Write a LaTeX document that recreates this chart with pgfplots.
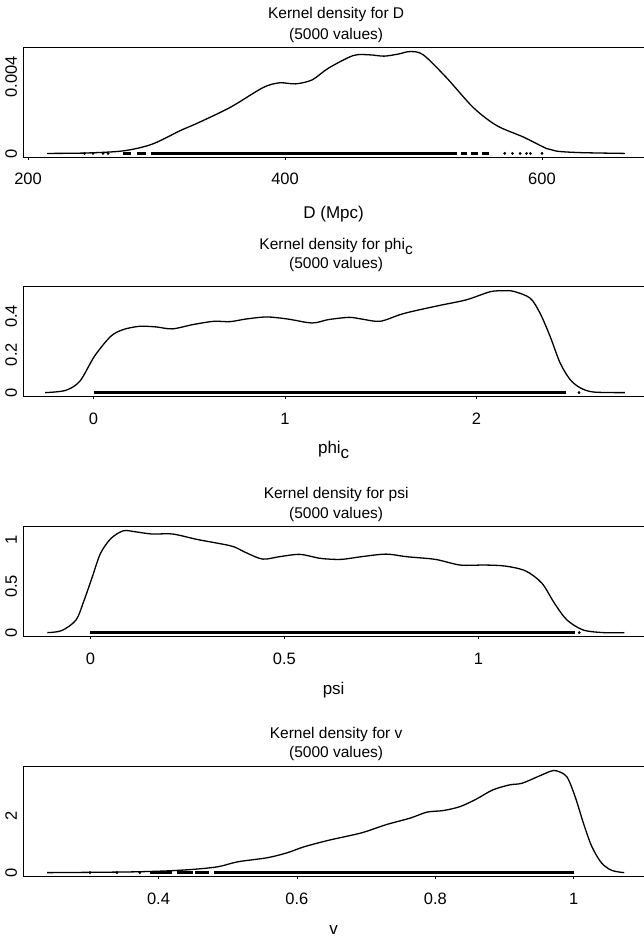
\documentclass[border=0pt]{standalone}
\usepackage{fontspec}
\setmainfont{Liberation Sans}
\usepackage{pgfplots}
\pgfplotsset{compat=1.18}

\newcommand\tickf{\fontsize{16.5}{19}\selectfont}
\newcommand\titf{\fontsize{15.5}{18}\selectfont}
\newcommand\labf{\fontsize{17}{20}\selectfont}

\tikzset{topline/.style={line width=1.3pt}}
\pgfplotsset{
  kd/.style={
    scale only axis, width=620.7pt, height=110pt,
    anchor=north west, clip=false,
    axis lines*=left,
    axis line style={line width=1.3pt},
    tick align=outside,
    xtick pos=left, ytick pos=left,
    major tick length=2.5pt,
    xtick style={line width=0.8pt, black},
    ytick style={draw=none},
    scaled x ticks=false, scaled y ticks=false,
    xticklabel style={anchor=base, inner sep=0pt, yshift=-25pt, font=\tickf},
    yticklabel style={xshift=-4pt, rotate=90, anchor=base, inner sep=0pt, font=\tickf},
  },
  curve/.style={black, line width=1.3pt, smooth, tension=0.5},
  rug/.style={black, line width=3pt, unbounded coords=jump},
  rugpt/.style={black, only marks, mark=*, mark size=1.2pt},
}

\begin{document}
\begin{tikzpicture}
\useasboundingbox (0,0) rectangle (644pt,-939pt);

% ---------------- Panel 1: D ----------------
\begin{axis}[kd, at={(23.3pt,-47.5pt)},
  xmin=196.3, xmax=679.4, ymin=-0.000212, ymax=0.005512,
  xtick={200,400,600}, xticklabels={200,400,600},
  ytick={0,0.004}, yticklabels={0,0.004}]
\addplot[curve] coordinates {
(214.9,0) (245,0.0000212) (274.1,0.000133) (296.4,0.000477) (318.8,0.001198)
(331.6,0.001569) (357.2,0.00239) (382.7,0.003419) (395.6,0.003673) (408.3,0.00362)
(421.1,0.003827) (433.9,0.004441) (453.1,0.005093) (465.8,0.00513) (477.0,0.005062)
(488,0.005168) (497.3,0.0053) (507.6,0.00513) (525.8,0.003933) (546.5,0.00239)
(564.7,0.001452) (585.5,0.000853) (603.6,0.000254) (611.4,0.000117) (629.6,0.0000424)
(664.6,0)};
\addplot[rug] coordinates {(274,0) (280,0) (nan,nan) (285,0) (292,0) (nan,nan)
(296,0) (534,0) (nan,nan) (537,0) (542,0) (nan,nan) (545,0) (550,0) (nan,nan) (553,0) (559,0)};
\addplot[rugpt] coordinates {(244,0) (250.6,0) (258.4,0) (262.3,0) (571,0) (577,0) (583,0) (588,0) (591,0) (600,0)};
\draw[topline] (rel axis cs:0,1) -- (rel axis cs:1,1);
\node[font=\titf, anchor=base, yshift=28.5pt] at (axis description cs:0.504,1) {Kernel density for D};
\node[font=\titf, anchor=base, yshift=7.5pt] at (axis description cs:0.504,1) {(5000 values)};
\node[font=\labf, anchor=base, yshift=-61pt] at (axis description cs:0.5,0) {D (Mpc)};
\end{axis}

% ---------------- Panel 2: phi_c ----------------
\begin{axis}[kd, at={(23.3pt,-286.7pt)},
  xmin=-0.367, xmax=2.8757, ymin=-0.0214, ymax=0.5564,
  xtick={0,1,2}, xticklabels={0,1,2},
  ytick={0,0.2,0.4}, yticklabels={0,0.2,0.4}]
\addplot[curve] coordinates {
(-0.253,0) (-0.146,0.0118) (-0.071,0.0605) (0.005,0.1915) (0.090,0.2959)
(0.155,0.3312) (0.240,0.3483) (0.327,0.3451) (0.412,0.3349) (0.519,0.3574)
(0.627,0.3745) (0.713,0.3729) (0.798,0.3868) (0.905,0.3975) (1.013,0.3868)
(1.142,0.3659) (1.227,0.3836) (1.335,0.3954) (1.399,0.3868) (1.496,0.3745)
(1.60,0.4093) (1.671,0.428) (1.81,0.4585) (1.949,0.4879) (2.071,0.5297)
(2.14,0.535) (2.193,0.5323) (2.28,0.497) (2.332,0.4184) (2.385,0.2959)
(2.437,0.1568) (2.489,0.0696) (2.541,0.0262) (2.611,0.0032) (2.776,0)};
\addplot[rug] coordinates {(0,0) (2.47,0)};
\addplot[rugpt] coordinates {(2.536,0)};
\draw[topline] (rel axis cs:0,1) -- (rel axis cs:1,1);
\node[font=\titf, anchor=base, yshift=37pt] at (axis description cs:0.504,1) {Kernel density for phi\raisebox{-0.3em}{c}};
\node[font=\titf, anchor=base, yshift=18pt] at (axis description cs:0.504,1) {(5000 values)};
\node[font=\labf, anchor=base, yshift=-57pt] at (axis description cs:0.5,0) {phi\raisebox{-0.3em}{c}};
\end{axis}

% ---------------- Panel 3: psi ----------------
\begin{axis}[kd, at={(23.3pt,-526.7pt)},
  xmin=-0.173, xmax=1.4268, ymin=-0.044, ymax=1.144,
  xtick={0,0.5,1}, xticklabels={0,0.5,1},
  ytick={0,0.5,1}, yticklabels={0,0.5,1}]
\addplot[curve] coordinates {
(-0.111,0) (-0.074,0.022) (-0.037,0.1375) (-0.016,0.352) (0.005,0.604)
(0.026,0.856) (0.053,1.0175) (0.085,1.1) (0.116,1.089) (0.159,1.065)
(0.212,1.065) (0.275,1.0065) (0.339,0.957) (0.370,0.927) (0.402,0.862)
(0.444,0.794) (0.487,0.82) (0.540,0.845) (0.593,0.802) (0.646,0.791)
(0.698,0.82) (0.762,0.848) (0.815,0.82) (0.889,0.791) (0.953,0.730)
(1.016,0.730) (1.069,0.719) (1.122,0.666) (1.164,0.532) (1.196,0.317)
(1.228,0.1375) (1.270,0.0286) (1.323,0) (1.376,0)};
\addplot[rug] coordinates {(0,0) (1.25,0)};
\addplot[rugpt] coordinates {(1.26,0)};
\draw[topline] (rel axis cs:0,1) -- (rel axis cs:1,1);
\node[font=\titf, anchor=base, yshift=28.5pt] at (axis description cs:0.504,1) {Kernel density for psi};
\node[font=\titf, anchor=base, yshift=8pt] at (axis description cs:0.504,1) {(5000 values)};
\node[font=\labf, anchor=base, yshift=-58pt] at (axis description cs:0.5,0) {psi};
\end{axis}

% ---------------- Panel 4: v ----------------
\begin{axis}[kd, at={(23.3pt,-766.7pt)},
  xmin=0.2046, xmax=1.1016, ymin=-0.144, ymax=3.744,
  xtick={0.4,0.6,0.8,1}, xticklabels={0.4,0.6,0.8,1},
  ytick={0,2}, yticklabels={0,2}]
\addplot[curve] coordinates {
(0.239,0) (0.349,0.0216) (0.408,0.0576) (0.450,0.1152) (0.486,0.2088)
(0.515,0.3852) (0.557,0.5256) (0.586,0.702) (0.610,0.9108) (0.646,1.1448)
(0.693,1.404) (0.729,1.6956) (0.764,1.9296) (0.788,2.1384) (0.812,2.196)
(0.836,2.3364) (0.859,2.5956) (0.883,2.9232) (0.907,3.0996) (0.925,3.1572)
(0.948,3.3912) (0.966,3.5784) (0.975,3.6) (0.99,3.3912) (1.002,2.6892)
(1.014,1.7532) (1.026,0.9324) (1.040,0.3492) (1.055,0.0792) (1.073,0)};
\addplot[rug] coordinates {(0.388,0) (0.42,0) (nan,nan) (0.426,0) (0.45,0) (nan,nan)
(0.453,0) (0.473,0) (nan,nan) (0.48,0) (1.0,0)};
\addplot[rugpt] coordinates {(0.301,0) (0.34,0) (0.373,0)};
\draw[topline] (rel axis cs:0,1) -- (rel axis cs:1,1);
\node[font=\titf, anchor=base, yshift=28.5pt] at (axis description cs:0.504,1) {Kernel density for v};
\node[font=\titf, anchor=base, yshift=9pt] at (axis description cs:0.504,1) {(5000 values)};
\node[font=\labf, anchor=base, yshift=-58pt] at (axis description cs:0.5,0) {v};
\end{axis}
\end{tikzpicture}
\end{document}
